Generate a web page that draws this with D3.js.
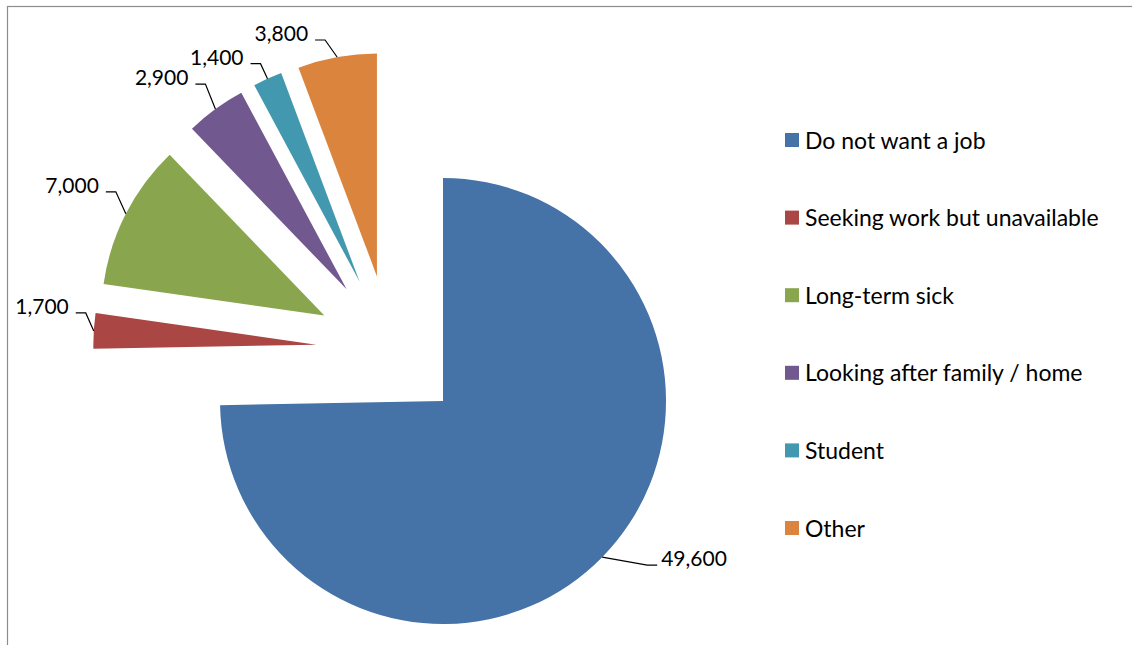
<!DOCTYPE html>
<html>
<head>
<meta charset="utf-8">
<script src="https://cdn.jsdelivr.net/npm/d3@7"></script>
<style>
  html, body { margin: 0; padding: 0; background: #fff; }
  svg { display: block; }
  text { font-family: Lato, "Open Sans", sans-serif; fill: #000; }
</style>
</head>
<body>
<svg id="chart" width="1132" height="645"></svg>
<script>
// Economically inactive people by reason
const categories = [
  "Do not want a job",
  "Seeking work but unavailable",
  "Long-term sick",
  "Looking after family / home",
  "Student",
  "Other"
];
const values = [49600, 1700, 7000, 2900, 1400, 3800];
const valueLabels = ["49,600", "1,700", "7,000", "2,900", "1,400", "3,800"];
const colors = ["#4572A7", "#AA4643", "#89A54E", "#71588F", "#4198AF", "#DB843D"];

// Leader-line elbow offsets from each slice's outer mid-point (layout only)
const labelElbow = [[45, 8], [-8, -18], [-10, -22], [-10, -25], [-7, -15], [-12, -17]];

const svg = d3.select("#chart");
const W = 1132, H = 645;

// chart frame (right and bottom edges lie outside the view)
svg.append("rect")
  .attr("x", 7.5).attr("y", 6.5)
  .attr("width", W + 20).attr("height", H + 20)
  .attr("fill", "#fff")
  .attr("stroke", "#8c8c8c")
  .attr("stroke-width", 1.2);

const cx = 390.2, cy = 349.2;
const radius = 223;
const explode = 74;

const pie = d3.pie().sort(null).value(d => d)(values);
const arc = d3.arc().innerRadius(0).outerRadius(radius);

const g = svg.append("g").attr("transform", `translate(${cx},${cy})`);

const slices = g.selectAll("g.slice")
  .data(pie)
  .join("g")
  .attr("class", "slice")
  .attr("transform", d => {
    const m = (d.startAngle + d.endAngle) / 2;
    return `translate(${explode * Math.sin(m)},${-explode * Math.cos(m)})`;
  });

slices.append("path")
  .attr("d", arc)
  .attr("fill", (d, i) => colors[i]);

// data labels with leader lines
slices.each(function (d, i) {
  const m = (d.startAngle + d.endAngle) / 2;
  const px = radius * Math.sin(m), py = -radius * Math.cos(m);
  const ex = px + labelElbow[i][0], ey = py + labelElbow[i][1];
  const dir = Math.sin(m) >= 0 ? 1 : -1;
  const hx = ex + dir * 10;
  d3.select(this).append("path")
    .attr("d", `M${px},${py}L${ex},${ey}L${hx},${ey}`)
    .attr("fill", "none")
    .attr("stroke", "#000")
    .attr("stroke-width", 1.2);
  d3.select(this).append("text")
    .attr("x", hx + dir * (dir > 0 ? 4 : 7))
    .attr("y", ey + 1)
    .attr("text-anchor", dir > 0 ? "start" : "end")
    .attr("font-size", 21)
    .text(valueLabels[i]);
});

// legend
const legend = svg.append("g").attr("transform", "translate(785,140)");
const item = legend.selectAll("g")
  .data(categories)
  .join("g")
  .attr("transform", (d, i) => `translate(0,${i * 77.6})`);
item.append("rect")
  .attr("x", 0).attr("y", -7)
  .attr("width", 14).attr("height", 14)
  .attr("fill", (d, i) => colors[i]);
item.append("text")
  .attr("x", 20)
  .attr("y", 8.5)
  .attr("font-size", 23)
  .text(d => d);
</script>
</body>
</html>
